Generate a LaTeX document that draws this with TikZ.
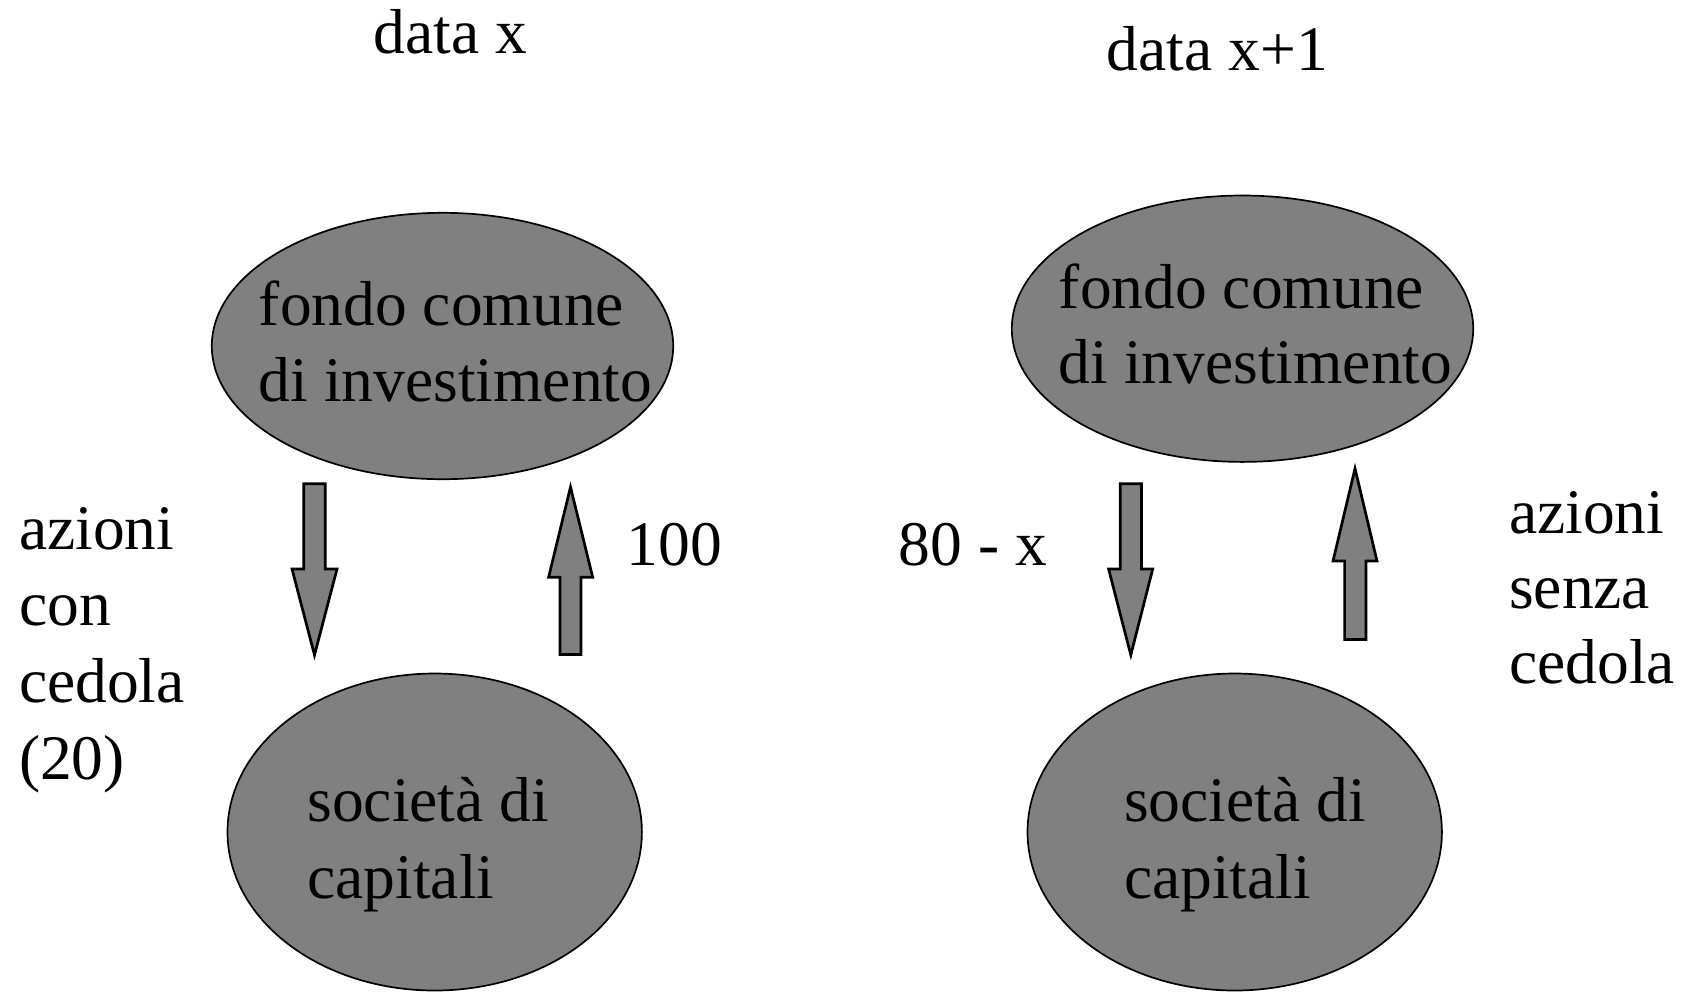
\documentclass[tikz,border=0pt]{standalone}
\usepackage{fontspec}
\setmainfont{Liberation Serif}
\usetikzlibrary{shapes.geometric}
\begin{document}
\begin{tikzpicture}[x=0.5pt,y=-0.5pt,
  blob/.style={ellipse, draw=black, line width=0.85pt, fill=black!50, inner sep=0pt},
  bigblob/.style={blob, minimum width=230.7pt, minimum height=133.2pt},
  smallblob/.style={blob, minimum width=207.2pt, minimum height=158.5pt},
  txt/.style={inner sep=0pt, anchor=base west, font=\fontsize{31.75}{38.3}\selectfont},
  barrow/.style={draw=black, line width=1.35pt, fill=black!50, line join=miter}]
\useasboundingbox (0,0) rectangle (1684,992);

% titles
\node[txt] (title1) at (373,53.3) {data x};
\node[txt] (title2) at (1106.5,70) {data x+1};

% ellipses
\node[smallblob] (soc1) at (434.7,832) {};
\node[smallblob] (soc2) at (1234.7,832) {};
\node[bigblob] (fondo1) at (442.5,346) {};
\node[bigblob] (fondo2) at (1242.5,328.7) {};

% ellipse texts
\node[txt] (fondo1t) at (258.5,325) {\vtop{\hbox{fondo comune}\hbox{di investimento}}};
\node[txt] (soc1t) at (307,821.7) {\vtop{\hbox{società di}\hbox{capitali}}};
\node[txt] (fondo2t) at (1058.5,308.3) {\vtop{\baselineskip=37.8pt\hbox{fondo comune}\hbox{di investimento}}};
\node[txt] (soc2t) at (1123.7,821.7) {\vtop{\hbox{società di}\hbox{capitali}}};

% labels
\node[txt] (lab1) at (18.7,549.3) {\vtop{\hbox{azioni}\hbox{con}\hbox{cedola}\hbox{(20)}}};
\node[txt] (lab2) at (626.5,565) {100};
\node[txt] (lab3) at (898.5,565) {80 - x};
\node[txt] (lab4) at (1508.7,533.3) {\vtop{\baselineskip=37.5pt\hbox{azioni}\hbox{senza}\hbox{cedola}}};

% block arrows
\draw[barrow] (303.7,483.7) -- (325.3,483.7) -- (325.3,569) -- (337,569)
  -- (314.5,655) -- (292,569) -- (303.7,569) -- cycle;
\draw[barrow] (570.5,487) -- (592.7,577.3) -- (581,577.3) -- (581,654.4)
  -- (560,654.4) -- (560,577.3) -- (548.6,577.3) -- cycle;
\draw[barrow] (1120.3,483.7) -- (1141.4,483.7) -- (1141.4,569) -- (1152.7,569)
  -- (1130.8,655) -- (1108.6,569) -- (1120.3,569) -- cycle;
\draw[barrow] (1355,468.5) -- (1377,561) -- (1366,561) -- (1366,639.4)
  -- (1344.6,639.4) -- (1344.6,561) -- (1333,561) -- cycle;
\end{tikzpicture}
\end{document}
